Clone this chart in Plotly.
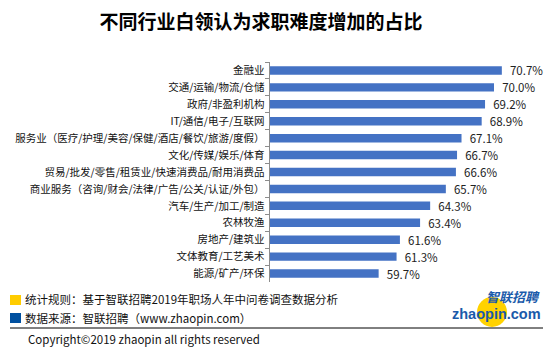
import plotly.graph_objects as go

categories = [
    "金融业",
    "交通/运输/物流/仓储",
    "政府/非盈利机构",
    "IT/通信/电子/互联网",
    "服务业（医疗/护理/美容/保健/酒店/餐饮/旅游/度假）",
    "文化/传媒/娱乐/体育",
    "贸易/批发/零售/租赁业/快速消费品/耐用消费品",
    "商业服务（咨询/财会/法律/广告/公关/认证/外包）",
    "汽车/生产/加工/制造",
    "农林牧渔",
    "房地产/建筑业",
    "文体教育/工艺美术",
    "能源/矿产/环保",
]
values = [70.7, 70.0, 69.2, 68.9, 67.1, 66.7, 66.6, 65.7, 64.3, 63.4, 61.6, 61.3, 59.7]
labels = [f"{v:.1f}%" for v in values]

FONT = "Noto Sans CJK SC, Microsoft YaHei, sans-serif"

fig = go.Figure(go.Bar(
    x=values, y=categories, orientation="h",
    marker=dict(color="#4472C4", line=dict(width=0)),
    text=labels, texttemplate="  %{text}", textposition="outside",
    cliponaxis=False, constraintext="none",
    textfont=dict(size=11.5, color="#222", family=FONT),
))

fig.update_layout(
    width=554, height=354,
    margin=dict(l=270, r=4, t=62, b=72),
    paper_bgcolor="white", plot_bgcolor="white",
    bargap=0.5, showlegend=False,
    font=dict(family=FONT),
    title=dict(text="<b>不同行业白领认为求职难度增加的占比</b>",
               x=261/554, xanchor="center", y=1-22/354, yanchor="middle",
               font=dict(size=19, color="#000", family=FONT)),
)
fig.update_xaxes(range=[50, 75], visible=False, showgrid=False, zeroline=False)
fig.update_yaxes(autorange="reversed", showline=True, linecolor="#8c8c8c", linewidth=1,
                 ticks="outside", ticklen=4, tickcolor="#8c8c8c", tickson="boundaries",
                 tickfont=dict(size=10.5, color="#111", family=FONT), ticksuffix=" ",
                 showgrid=False)

# footer notes
fig.add_shape(type="rect", xref="paper", yref="paper",
              x0=(10-270)/280, x1=(21-270)/280, y0=(282-295)/220, y1=(282-305)/220,
              fillcolor="#FFCC00", line=dict(width=0))
fig.add_shape(type="rect", xref="paper", yref="paper",
              x0=(10-270)/280, x1=(21-270)/280, y0=(282-313)/220, y1=(282-323)/220,
              fillcolor="#0050A0", line=dict(width=0))
fig.add_annotation(text="统计规则：基于智联招聘2019年职场人年中问卷调查数据分析",
                   xref="paper", yref="paper", x=(23-270)/280, y=(282-299)/220,
                   xanchor="left", yanchor="middle", showarrow=False,
                   font=dict(size=11.5, color="#111", family=FONT))
fig.add_annotation(text="数据来源：智联招聘（www.zhaopin.com）",
                   xref="paper", yref="paper", x=(23-270)/280, y=(282-318)/220,
                   xanchor="left", yanchor="middle", showarrow=False,
                   font=dict(size=11.5, color="#111", family=FONT))
fig.add_shape(type="line", xref="paper", yref="paper",
              x0=(10-270)/280, x1=(543-270)/280, y0=(282-328)/220, y1=(282-328)/220,
              line=dict(color="#000", width=1))
fig.add_annotation(text="Copyright©2019 zhaopin all rights reserved",
                   xref="paper", yref="paper", x=(26-270)/280, y=(282-339)/220,
                   xanchor="left", yanchor="middle", showarrow=False,
                   font=dict(size=11.5, color="#111", family=FONT))

# logo
fig.add_shape(type="circle", xref="paper", yref="paper",
              x0=(477-270)/280, x1=(507-270)/280, y0=(282-297)/220, y1=(282-327)/220,
              fillcolor="#FFD200", line=dict(width=0))
fig.add_annotation(text="<b><i>智联招聘</i></b>", xref="paper", yref="paper",
                   x=(541-270)/280, y=(282-296)/220, xanchor="right", yanchor="middle",
                   showarrow=False, borderpad=0,
                   font=dict(size=13, color="#1A5AAA", family=FONT))
fig.add_annotation(text="<b>zhaopin.com</b>", xref="paper", yref="paper",
                   x=(542-270)/280, y=(282-314)/220, xanchor="right", yanchor="middle",
                   showarrow=False, borderpad=0,
                   font=dict(size=14.5, color="#1A5AAA", family="Liberation Sans, Arial"))

fig.write_html("out.html")
